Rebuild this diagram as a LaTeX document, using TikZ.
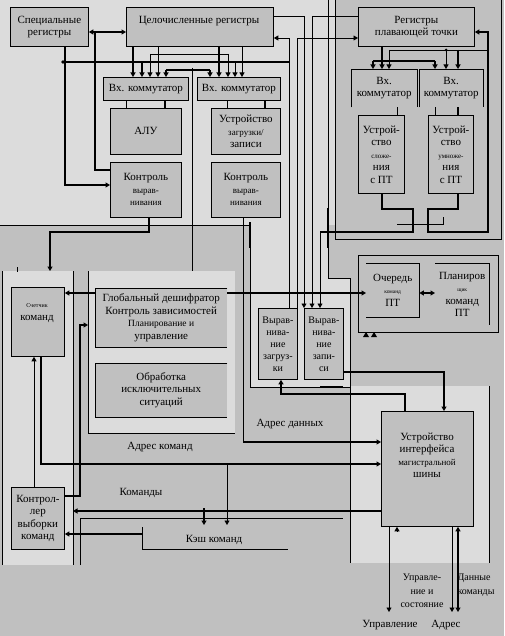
\documentclass[tikz,border=0pt]{standalone}
\usepackage{fontspec}
\setmainfont{Liberation Serif}
\usetikzlibrary{arrows.meta}
\definecolor{midgray}{HTML}{C0C0C0}
\definecolor{litegray}{HTML}{DCDCDC}
\begin{document}
\begin{tikzpicture}[x=1pt,y=-1pt,
  box/.style={fill=midgray,draw=black,line width=0.8pt,inner sep=0pt,anchor=north west,align=center,font=\fontsize{11}{12.5}\selectfont},
  obox/.style={fill=midgray,draw=none,inner sep=0pt,anchor=north west,align=center,font=\fontsize{11}{12.5}\selectfont},
  lbl/.style={inner sep=0pt,align=center,font=\fontsize{11}{12.5}\selectfont},
  ln/.style={line width=0.8pt},
  tk/.style={line width=1.8pt},
  arr/.style={-{Triangle[length=4.5pt,width=5pt]}},
  darr/.style={{Triangle[length=4.5pt,width=5pt]}-{Triangle[length=4.5pt,width=5pt]}}
]
\useasboundingbox (0,0) rectangle (504,636);
% ---------- backgrounds ----------
\fill[midgray] (0,0) rectangle (504,636);
\fill[litegray] (0,0) rectangle (335,225);
\fill[litegray] (250,225) -- (328,225) -- (328,278) -- (350,278) -- (350,387) -- (250,387) -- cycle;
\fill[midgray] (335,0) rectangle (501,239);
\fill[litegray] (2,271) rectangle (73,565);
\fill[litegray] (88,271) rectangle (235,433);
\fill[litegray] (350,386) rectangle (489,563);
% panel borders
\draw[ln] (335,-2) -- (335,239) -- (501,239) -- (501,-2);
\draw[ln] (358,255) rectangle (498,332);
\draw[ln] (328,0) -- (328,208);
\draw[tk] (328,208) -- (328,248);
\draw[ln] (328,248) -- (328,278) -- (350,278) -- (350,563);
\draw[ln] (0,225) -- (250,225);
\draw[tk] (250,222) -- (250,248);
\draw[ln] (250,248) -- (250,387) -- (350,387);
\draw[tk] (320,387) -- (343,387);
\draw[ln] (489,386) -- (489,563);
\draw[ln] (2,271) -- (2,565);
\draw[ln] (73,271) -- (73,565);
\draw[ln] (88,271) -- (88,433) -- (235,433);
\draw[ln] (17,267) -- (17,272);

% ---------- integer part ----------
\node[box,minimum width=78,minimum height=39] (spec) at (10,7) {Специальные\\регистры};
\node[box,minimum width=147,minimum height=39] (intreg) at (126,7) {};
\node[lbl] (intregt) at (199,21) {Целочисленные регистры};
\node[box,minimum width=85,minimum height=23] (lcomm) at (103,77) {Вх. коммутатор};
\node[box,minimum width=83,minimum height=23] (rcomm) at (197,77) {Вх. коммутатор};
\node[box,minimum width=71,minimum height=46] (alu) at (110,108) {АЛУ};
\node[box,minimum width=69,minimum height=46] (ls) at (211,108) {Устройство\\{\fontsize{9}{11}\selectfont загрузки/}\\записи};
\node[box,minimum width=71,minimum height=55] (ctl1) at (110,162) {Контроль\\{\fontsize{9}{11}\selectfont вырав-}\\{\fontsize{9}{11}\selectfont нивания}};
\node[box,minimum width=69,minimum height=55] (ctl2) at (211,162) {Контроль\\{\fontsize{9}{11}\selectfont вырав-}\\{\fontsize{9}{11}\selectfont нивания}};

% ---------- floating point part ----------
\node[box,minimum width=116,minimum height=39] (fpreg) at (358,7) {Регистры\\плавающей точки};
\node[obox,minimum width=66,minimum height=38] (fpl) at (351,69) {Вх.\\коммутатор};
\draw[ln] (fpl.south west) -- (fpl.north west) -- (fpl.north east) -- (fpl.south east);
\node[obox,minimum width=64,minimum height=38] (fpr) at (419,69) {Вх.\\коммутатор};
\draw[ln] (fpr.south west) -- (fpr.north west) -- (fpr.north east) -- (fpr.south east);
\node[box,minimum width=46,minimum height=78] (fadd) at (358,115) {Устрой-\\ство\\{\fontsize{7}{9.5}\selectfont сложе-}\\ния\\с ПТ};
\node[box,minimum width=45,minimum height=78] (fmul) at (428,115) {Устрой-\\ство\\{\fontsize{7}{9.5}\selectfont умноже-}\\ния\\с ПТ};
\node[obox,minimum width=53,minimum height=54] (fpqueue) at (366,263) {Очередь\\{\fontsize{5.5}{9}\selectfont команд}\\ПТ};
\draw[ln] (fpqueue.north west) -- (fpqueue.north east) -- (fpqueue.south east) -- (fpqueue.south west);
\node[obox,minimum width=54,minimum height=62] (fpsched) at (435,263) {Планиров\\{\fontsize{5.5}{9}\selectfont щик}\\команд\\ПТ};
\draw[ln] (fpsched.north west) -- (fpsched.north east) -- (fpsched.south east);

% ---------- decoder part ----------
\node[obox,minimum width=132,minimum height=59] (gdec) at (95,288) {Глобальный дешифратор\\Контроль зависимостей\\{\fontsize{9.5}{12.5}\selectfont Планирование и}\\управление};
\draw[ln] (gdec.north east) -- (gdec.north west) -- (gdec.south west) -- (gdec.south east);
\node[obox,minimum width=132,minimum height=54] (exc) at (95,363) {Обработка\\исключительных\\ситуаций};
\draw[ln] (exc.north east) -- (exc.north west) -- (exc.south west) -- (exc.south east);
\node[box,minimum width=39,minimum height=71,font=\fontsize{10}{12}\selectfont] (loadal) at (258,308) {Вырав-\\нива-\\ние\\загруз-\\ки};
\node[box,minimum width=39,minimum height=71,font=\fontsize{10}{12}\selectfont] (stal) at (304,308) {Вырав-\\нива-\\ние\\запи-\\си};

% ---------- fetch part ----------
\node[box,minimum width=53,minimum height=69] (pc) at (11,287) {};
\node[lbl] (pct) at (37,313) {{\fontsize{6}{12}\selectfont Счетчик}\\команд};
\node[box,minimum width=53,minimum height=62] (ifc) at (11,487) {Контрол-\\лер\\выборки\\команд};
\node[lbl] (cache) at (214,540) {Кэш команд};
\draw[ln] (80,565) -- (80,518) -- (343,518);
\draw[ln] (142,527) -- (142,549) -- (288,549);

% ---------- bus interface ----------
\node[box,minimum width=92,minimum height=115] (biu) at (381,411) {};
\node[lbl] (biut) at (427,455) {Устройство\\интерфейса\\{\fontsize{9}{12.5}\selectfont магистральной}\\шины};

% ---------- labels ----------
\node[lbl] (ladat) at (290,424) {Адрес данных};
\node[lbl] (lacmd) at (160,447) {Адрес команд};
\node[lbl] (lcmds) at (141,493) {Команды};
\node[lbl,font=\fontsize{10}{13.5}\selectfont] (lctl) at (422,591) {Управле-\\ние и\\состояние};
\node[lbl,font=\fontsize{10}{13.5}\selectfont,align=left] (ldata) at (476,585) {Данные\\команды};
\node[lbl] (lupr) at (390,625) {Управление};
\node[lbl] (ladr) at (446,625) {Адрес};

% ---------- junction coordinates ----------
\coordinate (j95) at (95,32);
\coordinate (busL) at (63,62);
\coordinate (busR) at (289,62);
\coordinate (pcin) at (50,271);
\coordinate (gin) at (88,325);
\coordinate (cmdin) at (73,511);

% ---------- connectors: integer part ----------
\draw[tk,darr] (spec.east |- 0,32) -- (intreg.west |- 0,32);
\draw[tk] (j95) -- (95,170) -- (ctl1.west |- 0,170);
\draw[tk,arr] (spec.south -| 65,0) -- (65,185) -- (ctl1.west |- 0,185);
\draw[tk] (busL) -- (busR);
\fill (busL) circle (1.8);
\draw[tk,arr] (intreg.south -| 133,0) -- (lcomm.north -| 133,0);
\draw[tk,arr] (142,62) -- (lcomm.north -| 142,0);
\draw[ln] (150,54) -- (228,54);
\draw[ln,arr] (150,54) -- (lcomm.north -| 150,0);
\draw[ln,arr] (228,54) -- (rcomm.north -| 228,0);
\draw[ln,arr] (intreg.south -| 158,0) -- (lcomm.north -| 158,0);
\draw[tk] (166,70) -- (210,70);
\draw[tk,arr] (166,70) -- (lcomm.north -| 166,0);
\draw[tk,arr] (210,70) -- (rcomm.north -| 210,0);
\draw[ln] (192,68) -- (192,271);
\draw[tk,arr] (intreg.south -| 219,0) -- (rcomm.north -| 219,0);
\draw[ln,arr] (235,62) -- (rcomm.north -| 235,0);
\draw[ln,arr] (intreg.south -| 242,0) -- (rcomm.north -| 242,0);
\draw[ln] (lcomm.south -| 126,0) -- (alu.north -| 126,0);
\draw[tk] (lcomm.south -| 165,0) -- (alu.north -| 165,0);
\draw[ln] (rcomm.south -| 227,0) -- (ls.north -| 227,0);
\draw[tk] (rcomm.south -| 265,0) -- (ls.north -| 265,0);

% ---------- connectors: registers <-> alignment ----------
\draw[ln,arr] (intreg.east |- 0,16) -- (304,16) -- (stal.north -| 304,0);
\draw[ln,arr] (fpreg.west |- 0,16) -- (312,16) -- (stal.north -| 312,0);
\draw[ln,arr] (loadal.north -| 289,0) -- (289,38) -- (intreg.east |- 0,38);
\draw[ln,arr] (loadal.north -| 297,0) -- (297,38) -- (fpreg.west |- 0,38);

% ---------- connectors: floating point ----------
\draw[tk] (fadd.south -| 382,0) -- (382,209) -- (413,209) -- (413,232) -- (320,232);
\draw[ln,arr] (320,232) -- (stal.north -| 320,0);
\draw[tk,arr] (fmul.south -| 458,0) -- (458,209) -- (428,209) -- (428,232) -- (488,232) -- (488,32) -- (fpreg.east |- 0,32);
\draw[ln] (389,50) -- (488,50);
\draw[tk,arr] (fpreg.south -| 382,0) -- (fpl.north -| 382,0);
\draw[tk] (373,61) -- (435,61);
\draw[tk,arr] (373,61) -- (fpl.north -| 373,0);
\draw[tk,arr] (435,61) -- (fpr.north -| 435,0);
\draw[ln,arr] (389,50) -- (fpl.north -| 389,0);
\draw[ln,arr] (446,50) -- (fpr.north -| 446,0);
\fill (446,50) circle (1.5);
\draw[tk,arr] (458,50) -- (fpr.north -| 458,0);
\draw[ln] (fpl.south -| 397,0) -- (fadd.north -| 397,0);
\draw[ln] (fpr.south -| 435,0) -- (fmul.north -| 435,0);
\draw[tk] (fpr.south -| 458,0) -- (fmul.north -| 458,0);
\draw[ln] (397,224) -- (443,224) -- (443,217);
\draw[tk,darr] (fpqueue.east |- 0,293) -- (fpsched.west |- 0,293);
\fill (363,337) -- (366,332) -- (369,337) -- cycle;
\fill (371,337) -- (374,332) -- (377,337) -- cycle;

% ---------- connectors: decoder / fetch ----------
\draw[tk,arr] (ctl1.south -| 149,0) -- (149,232) -- (50,232) -- (pcin);
\draw[tk,arr] (gdec.west |- 0,293) -- (pc.east |- 0,293);
\draw[tk,arr] (gdec.east |- 0,293) -- (fpqueue.west |- 0,293);
\draw[tk,arr] (ifc.east |- 0,496) -- (80,496) -- (80,325) -- (gin);
\draw[ln,arr] (ifc.north -| 34,0) -- (pc.south -| 34,0);
\draw[tk,arr] (pc.south -| 41,0) -- (41,464) -- (biu.west |- 0,464);
\draw[ln,arr] (227,464) -- (227,525);
\draw[tk,arr] (biu.west |- 0,511) -- (cmdin);
\draw[tk,arr] (204,508) -- (204,525);
\draw[tk,arr] (142,534) -- (ifc.east |- 0,534);

% ---------- connectors: data / bus ----------
\draw[ln] (ctl2.south -| 243,0) -- (243,442);
\draw[tk,arr] (243,442) -- (biu.west |- 0,442);
\draw[tk,arr] (stal.east |- 0,372) -- (444,372) -- (biu.north -| 444,0);
\draw[tk,arr] (biu.north -| 405,0) -- (405,394) -- (281,394) -- (loadal.south -| 281,0);
\draw[ln,arr] (biu.south -| 389,0) -- (389,612);
\draw[ln,arr] (397,531) -- (biu.south -| 397,0);
\draw[ln,arr] (biu.south -| 452,0) -- (452,612);
\draw[tk,darr] (biu.south -| 458,0) -- (458,612);
\end{tikzpicture}
\end{document}
